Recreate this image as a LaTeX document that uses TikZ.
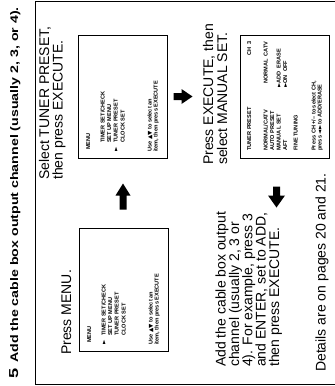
\documentclass[tikz,border=0pt]{standalone}
\usepackage{fontspec}
\setmainfont{Liberation Sans}
\newfontfamily\symf{DejaVu Sans}
\usepackage{graphicx}
\newcommand\blkarrow[7]{%
  \coordinate (#1) at (#2,#3);
  \fill[shift={(#1)},rotate=#4] ({-#5/2},-3.5) -- ({#5/2-#6},-3.5) -- ({#5/2-#6},-#7) -- ({#5/2},0) -- ({#5/2-#6},#7) -- ({#5/2-#6},3.5) -- ({-#5/2},3.5) -- cycle;}
\begin{document}
\begin{tikzpicture}[x=1pt,y=-1pt,
  txt/.style={rotate=90,anchor=base west,inner sep=0pt,font=\fontsize{14}{14}\selectfont},
  ttl/.style={rotate=90,anchor=base west,inner sep=0pt,font=\fontsize{11}{11}\selectfont\bfseries},
  scr/.style={rotate=90,anchor=base west,inner sep=0pt,font=\fontsize{5.6}{6}\selectfont\bfseries},
  screen/.style={draw,line width=1.3pt,inner sep=0pt,anchor=north west,minimum width=89pt,minimum height=123pt},
  frameline/.style={line width=1pt}]
\useasboundingbox (0,0) rectangle (335,386);
\fill[white] (0,0) rectangle (335,386);
% frame
\draw[frameline] (335,1.5) -- (35,1.5) -- (35,384) -- (335,384);
% title
\node[ttl] (num) at (18,379) {\scalebox{1.4}[1]{\fontsize{13}{13}\selectfont 5}};
\node[ttl] (title) at (18,363) {\scalebox{1.29}[1]{Add the cable box output channel (usually 2, 3, or 4).}};
% step texts
\node[txt] (pm) at (71,355) {Press MENU.};
\node[txt] (st1) at (49,180) {Select TUNER PRESET,};
\node[txt] (st2) at (62.5,180) {then press EXECUTE.};
\node[txt] (pe1) at (213,165) {Press EXECUTE, then};
\node[txt] (pe2) at (227,165) {select MANUAL SET.};
\node[txt] (ad1) at (225.7,367) {Add the cable box output};
\node[txt] (ad2) at (239,367) {channel (usually 2, 3 or};
\node[txt] (ad3) at (252.3,367) {4). For example, press 3};
\node[txt] (ad4) at (265.7,367) {and ENTER, set to ADD,};
\node[txt] (ad5) at (279,367) {then press EXECUTE.};
\node[txt] (det) at (325.7,372) {Details are on pages 20 and 21.};
% screens
\node[screen] (b1) at (79,228) {};
\node[screen] (b2) at (78,35) {};
\node[screen] (b3) at (240,35) {};
% screen 1
\node[scr] (b1h) at (91,343) {MENU};
\node[scr] (b1p) at (105.5,345) {\symf ►};
\node[scr] (b1i1) at (105.5,336) {TIMER SET/CHECK};
\node[scr] (b1i2) at (112,336) {SET UP MENU};
\node[scr] (b1i3) at (118.5,336) {TUNER PRESET};
\node[scr] (b1i4) at (125.5,336) {CLOCK SET};
\node[scr] (b1u1) at (152.5,345) {Use {\symf ▲▼} to select an};
\node[scr] (b1u2) at (158.5,345) {item, then press EXECUTE};
% screen 2
\node[scr] (b2h) at (90,150) {MENU};
\node[scr] (b2i1) at (104.5,143) {TIMER SET/CHECK};
\node[scr] (b2i2) at (111,143) {SET UP MENU};
\node[scr] (b2p) at (117.5,152) {\symf ►};
\node[scr] (b2i3) at (117.5,143) {TUNER PRESET};
\node[scr] (b2i4) at (124.5,143) {CLOCK SET};
\node[scr] (b2u1) at (151.5,152) {Use {\symf ▲▼} to select an};
\node[scr] (b2u2) at (157.5,152) {item, then press EXECUTE};
% screen 3
\node[scr] (b3t) at (251,151) {TUNER PRESET};
\node[scr] (b3c) at (251,56) {CH\ \ 3};
\node[scr] (b3n) at (267.5,151) {NORMAL/CATV};
\node[scr] (b3nv) at (267.5,84) {NORMAL\ \ CATV};
\node[scr] (b3a) at (274,151) {AUTO PRESET};
\node[scr] (b3m) at (280.5,151) {MANUAL SET};
\node[scr] (b3mv) at (280.5,88) {{\symf ►}ADD\ \ ERASE};
\node[scr] (b3f) at (287,151) {AFT};
\node[scr] (b3fv) at (287,88) {{\symf ►}ON\ \ OFF};
\node[scr] (b3g) at (297.5,151) {FINE TUNING};
\node[scr] (b3u1) at (315.5,151) {Press CH +/– to select CH,};
\node[scr] (b3u2) at (321.5,151) {press {\symf ◄►} to ADD/ERASE};
% block arrows
\blkarrow{arU}{123}{196.5}{90}{26}{12}{7.5}
\blkarrow{arR}{183}{96.5}{0}{19}{11}{7.5}
\blkarrow{arD}{276.5}{197}{-90}{21}{12}{8.5}
\end{tikzpicture}
\end{document}
